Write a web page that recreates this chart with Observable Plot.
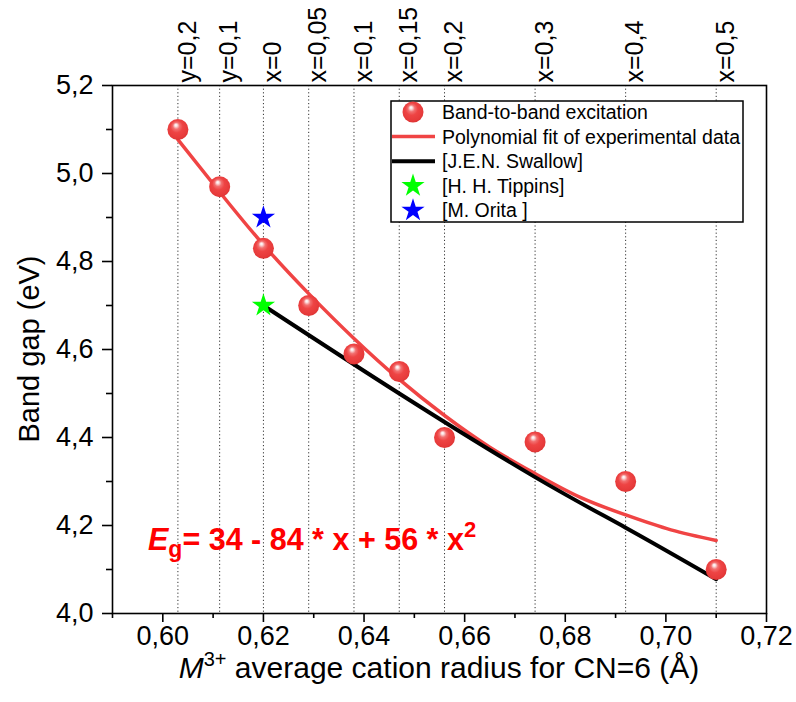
<!DOCTYPE html>
<html>
<head>
<meta charset="utf-8">
<script src="https://cdn.jsdelivr.net/npm/d3@7"></script>
<script src="https://cdn.jsdelivr.net/npm/@observablehq/plot@0.6"></script>
<style>
  body { margin: 0; background: #fff; }
  #chart { width: 796px; height: 702px; }
</style>
</head>
<body>
<div id="chart"></div>
<script>
// Average M3+ cation radius for CN=6 (Å) of each composition
const radius = [0.603, 0.6113, 0.620, 0.629, 0.638, 0.647, 0.656, 0.674, 0.692, 0.710];
// Band gap from band-to-band excitation (eV)
const bandGap = [5.10, 4.97, 4.83, 4.70, 4.59, 4.55, 4.40, 4.39, 4.30, 4.10];
// Composition labels along the top edge
const compLabels = ["y=0,2", "y=0,1", "x=0", "x=0,05", "x=0,1", "x=0,15", "x=0,2", "x=0,3", "x=0,4", "x=0,5"];

// Polynomial fit of the experimental data
const fitX = [0.603, 0.6113, 0.620, 0.629, 0.638, 0.647, 0.656, 0.665, 0.674, 0.683, 0.692, 0.701, 0.710];
const fitY = [5.077, 4.958, 4.838, 4.727, 4.625, 4.532, 4.450, 4.378, 4.318, 4.264, 4.224, 4.190, 4.166];

// [J.E.N. Swallow]
const swallowX = [0.620, 0.647, 0.674, 0.692, 0.710];
const swallowY = [4.70, 4.50, 4.31, 4.195, 4.078];

// Single literature values
const tippinsX = [0.620], tippinsY = [4.70];   // [H. H. Tippins]
const oritaX = [0.620], oritaY = [4.90];       // [M. Orita ]

// Axis ticks
const xMajor = [0.60, 0.62, 0.64, 0.66, 0.68, 0.70, 0.72];
const xMinor = [0.59, 0.61, 0.63, 0.65, 0.67, 0.69, 0.71];
const yMajor = [4.0, 4.2, 4.4, 4.6, 4.8, 5.0, 5.2];
const yMinor = [4.1, 4.3, 4.5, 4.7, 4.9, 5.1];

const comma = (digits) => (d) => d.toFixed(digits).replace(".", ",");

const measured = radius.map((x, i) => ({x, y: bandGap[i]}));
const fit = fitX.map((x, i) => ({x, y: fitY[i]}));
const swallow = swallowX.map((x, i) => ({x, y: swallowY[i]}));
const tippins = tippinsX.map((x, i) => ({x, y: tippinsY[i]}));
const orita = oritaX.map((x, i) => ({x, y: oritaY[i]}));
const comps = compLabels.map((label, i) => ({x: radius[i], label}));

const FONT = "'Liberation Sans', Arial, Helvetica, sans-serif";
const RED_LINE = "#f04444";

const W = 796, H = 702;
const M = {left: 112, right: 30, top: 85, bottom: 89};

const plot = Plot.plot({
  width: W,
  height: H,
  marginLeft: M.left,
  marginRight: M.right,
  marginTop: M.top,
  marginBottom: M.bottom,
  style: {fontFamily: FONT, fontSize: "27px", color: "#000", background: "#fff", overflow: "visible"},
  x: {domain: [0.59, 0.72]},
  y: {domain: [4.0, 5.2]},
  marks: [
    // dotted guides at each composition
    Plot.ruleX(comps, {x: "x", stroke: "#333", strokeWidth: 1, strokeDasharray: "1.2,2.4"}),
    Plot.text(comps, {
      x: "x", text: "label", frameAnchor: "top", rotate: -90, textAnchor: "start",
      dy: -3, fontSize: 25, fill: "#000"
    }),
    // fitted curve and literature trend
    Plot.line(fit, {x: "x", y: "y", stroke: RED_LINE, strokeWidth: 3.5, curve: "natural"}),
    Plot.line(swallow, {x: "x", y: "y", stroke: "#000", strokeWidth: 4, curve: "natural"}),
    // measured band gaps
    Plot.dot(measured, {x: "x", y: "y", r: 10.5, fill: "url(#sphere)", stroke: "none"}),
    // literature single values
    Plot.dot(tippins, {x: "x", y: "y", symbol: "star", r: 7.3, fill: "#00ff00", stroke: "none"}),
    Plot.dot(orita, {x: "x", y: "y", symbol: "star", r: 7.3, fill: "#0000ff", stroke: "none"}),
    Plot.frame({stroke: "#000", strokeWidth: 1.6}),
    // axes
    Plot.axisX({ticks: xMajor, tickSize: 9, tickPadding: 3, tickFormat: comma(2), label: null, strokeWidth: 1.6, fontSize: 27}),
    Plot.axisX({ticks: xMinor, tickSize: 5, tickFormat: () => "", label: null, strokeWidth: 1.6}),
    Plot.axisY({ticks: yMajor, tickSize: 10, tickPadding: 9, tickFormat: comma(1), label: null, strokeWidth: 1.6, fontSize: 27}),
    Plot.axisY({ticks: yMinor, tickSize: 6, tickFormat: () => "", label: null, strokeWidth: 1.6})
  ]
});

document.getElementById("chart").appendChild(plot);

const svg = d3.select(plot);

// minor ticks carry no labels
svg.selectAll("text").filter(function () { return this.textContent === ""; }).remove();

// shaded sphere for the measured points
const defs = svg.insert("defs", ":first-child");
const grad = defs.append("radialGradient")
  .attr("id", "sphere")
  .attr("cx", "48%").attr("cy", "45%").attr("r", "58%")
  .attr("fx", "40%").attr("fy", "28%");
[
  ["0%", "#ffffff"],
  ["10%", "#fbe3e3"],
  ["28%", "#f27070"],
  ["50%", "#ee4444"],
  ["85%", "#e63a3a"],
  ["100%", "#d83030"]
].forEach(([o, c]) => grad.append("stop").attr("offset", o).attr("stop-color", c));

const frameL = M.left, frameR = W - M.right, frameT = M.top, frameB = H - M.bottom;

// axis titles
svg.append("text")
  .attr("transform", `translate(39,${(frameT + frameB) / 2}) rotate(-90)`)
  .attr("text-anchor", "middle")
  .attr("font-family", FONT).attr("font-size", 29).attr("fill", "#000")
  .text("Band gap (eV)");

const xt = svg.append("text")
  .attr("x", (frameL + frameR) / 2).attr("y", H - 24)
  .attr("text-anchor", "middle")
  .attr("font-family", FONT).attr("font-size", 30).attr("fill", "#000");
xt.append("tspan").attr("font-style", "italic").text("M");
xt.append("tspan").attr("font-size", 20).attr("dy", -12).text("3+");
xt.append("tspan").attr("dy", 12).text(" average cation radius for CN=6 (Å)");

// fit equation
const eq = svg.append("text")
  .attr("x", frameL + 36).attr("y", frameB - 63)
  .attr("text-anchor", "start")
  .attr("font-family", FONT).attr("font-size", 30.5).attr("font-weight", "bold").attr("fill", "#ff0000");
eq.append("tspan").attr("font-style", "italic").text("E");
eq.append("tspan").attr("font-size", 23).attr("dy", 7).text("g");
eq.append("tspan").attr("dy", -7).text("= 34 - 84 * x + 56 * x");
eq.append("tspan").attr("font-size", 22).attr("dy", -13).text("2");

// legend
const lg = svg.append("g").attr("font-family", FONT).attr("font-size", 19.5).attr("text-anchor", "start");
const box = {x: 391, y: 101, w: 352, h: 121};
lg.append("rect").attr("x", box.x).attr("y", box.y).attr("width", box.w).attr("height", box.h)
  .attr("fill", "#fff").attr("stroke", "#000").attr("stroke-width", 1.5);
const rows = [
  {type: "sphere", label: "Band-to-band excitation"},
  {type: "line", color: RED_LINE, width: 3.5, label: "Polynomial fit of experimental data"},
  {type: "line", color: "#000", width: 4, label: "[J.E.N. Swallow]"},
  {type: "star", color: "#00ff00", label: "[H. H. Tippins]"},
  {type: "star", color: "#0000ff", label: "[M. Orita ]"}
];
const starPath = d3.symbol(d3.symbolStar, Math.PI * 7.3 * 7.3)();
rows.forEach((r, i) => {
  const cy = box.y + 11 + i * 24.6;
  const cx = box.x + 22;
  if (r.type === "sphere") {
    lg.append("circle").attr("cx", cx).attr("cy", cy).attr("r", 10.5).attr("fill", "url(#sphere)");
  } else if (r.type === "line") {
    lg.append("line").attr("x1", box.x + 1).attr("x2", box.x + 44).attr("y1", cy).attr("y2", cy)
      .attr("stroke", r.color).attr("stroke-width", r.width);
  } else {
    lg.append("path").attr("d", starPath).attr("transform", `translate(${cx},${cy})`).attr("fill", r.color);
  }
  lg.append("text").attr("x", box.x + 51).attr("y", cy).attr("dy", "0.36em").attr("fill", "#000").text(r.label);
});
</script>
</body>
</html>
